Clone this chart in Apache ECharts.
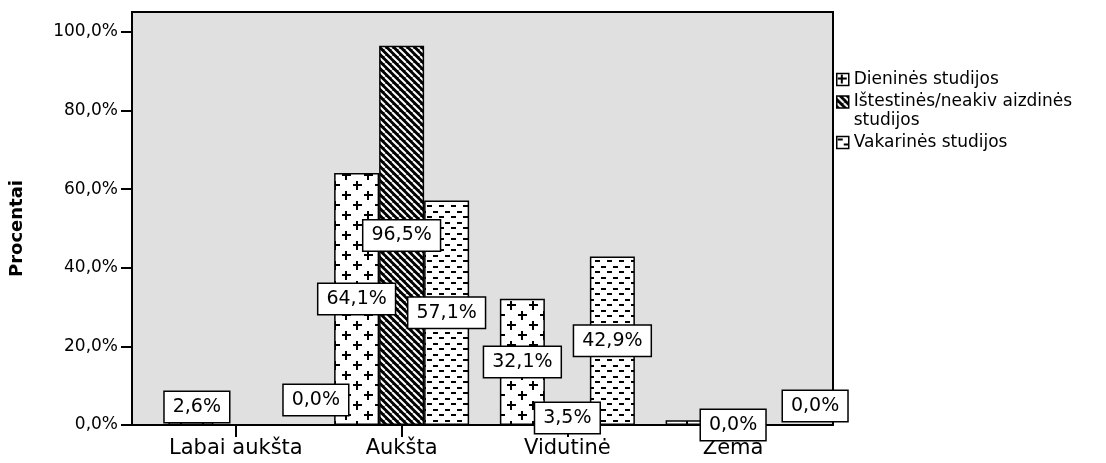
<!DOCTYPE html>
<html><head><meta charset="utf-8">
<style>html,body{margin:0;padding:0;background:#fff}#c{width:1106px;height:463px}</style>
<script src="https://cdn.jsdelivr.net/npm/echarts@6/dist/echarts.min.js"></script>
</head><body><div id="c"></div>
<script>
const categories = ['Labai aukšta', 'Aukšta', 'Vidutinė', 'Zema'];
const seriesNames = ['Dieninės studijos', 'Ištestinės/neakiv aizdinės\nstudijos', 'Vakarinės studijos'];
const dieninesValues = [2.6, 64.1, 32.1, 1.2];
const istestinesValues = [0.0, 96.5, 3.5, 0.0];
const vakarinesValues = [0.0, 57.1, 42.9, 0.0];
const yTicks = [0, 20, 40, 60, 80, 100];
const yMax = 105.1;

function tile(w, h, draw) {
  const c = document.createElement('canvas');
  c.width = w; c.height = h;
  draw(c.getContext('2d'), w, h);
  return c;
}
const plusTile = tile(22, 20, (g, w, h) => {
  g.fillStyle = '#fff'; g.fillRect(0, 0, w, h);
  g.fillStyle = '#000';
  [[5, 5], [16, 15]].forEach(([x, y]) => {
    g.fillRect(x - 4, y - 1, 9, 2);
    g.fillRect(x - 1, y - 4, 2, 9);
  });
});
const hatchTile = tile(7, 7, (g, w, h) => {
  g.fillStyle = '#000'; g.fillRect(0, 0, w, h);
  g.strokeStyle = '#fff'; g.lineWidth = 2;
  for (let k = -1; k <= 1; k++) {
    g.beginPath(); g.moveTo(k * w, 0); g.lineTo(k * w + w, h); g.stroke();
  }
});
const dashTile = tile(12, 11, (g, w, h) => {
  g.fillStyle = '#fff'; g.fillRect(0, 0, w, h);
  g.fillStyle = '#000';
  g.fillRect(1, 2, 5, 2);
  g.fillRect(7, 7, 5, 2);
});

const valueSets = [dieninesValues, istestinesValues, vakarinesValues];
const patterns = [plusTile, hatchTile, dashTile];
const hiddenLabels = { '0-3': true, '1-0': true };
const labelShift = { '0-0': [6, -13], '2-0': [35, -25], '2-3': [37, -19] };
const fmt = v => Number(v).toFixed(1).replace('.', ',') + '%';
const FONT = 'DejaVu Sans';

const series = valueSets.map((vals, s) => ({
  type: 'bar',
  name: seriesNames[s],
  xAxisIndex: 1, yAxisIndex: 1,
  barWidth: 45, barGap: '0%',
  itemStyle: { color: { image: patterns[s], repeat: 'repeat' }, borderColor: '#000', borderWidth: 1.5 },
  label: {
    show: true, position: 'inside', formatter: p => fmt(p.value),
    fontFamily: FONT, fontSize: 19, color: '#000',
    backgroundColor: '#fff', borderColor: '#000', borderWidth: 1.5, padding: [6, 8, 5, 8]
  },
  emphasis: { disabled: true },
  data: vals.map((v, i) => {
    const key = s + '-' + i;
    const item = { value: v };
    if (hiddenLabels[key]) item.label = { show: false };
    else if (labelShift[key]) item.label = { offset: labelShift[key] };
    return item;
  })
}));

const legendCommon = {
  orient: 'vertical', left: 836, itemWidth: 12, itemHeight: 12, icon: 'rect',
  padding: 0, itemGap: 0, selectedMode: false,
  textStyle: { fontFamily: FONT, fontSize: 17, color: '#000', lineHeight: 19 },
  itemStyle: { borderColor: '#000', borderWidth: 1.5 }
};

const chart = echarts.init(document.getElementById('c'), null, { renderer: 'canvas' });
chart.setOption({
  animation: false,
  backgroundColor: '#fff',
  textStyle: { fontFamily: FONT },
  grid: [
    { left: 132, right: 273, top: 12, bottom: 38, show: true, backgroundColor: '#e0e0e0',
      borderColor: '#000', borderWidth: 2, outerBoundsMode: 'none', containLabel: false },
    { left: 153, right: 290, top: 12, bottom: 38, outerBoundsMode: 'none', containLabel: false }
  ],
  legend: [
    Object.assign({}, legendCommon, { data: [seriesNames[0]], top: 70 }),
    Object.assign({}, legendCommon, { data: [seriesNames[1]], top: 73.5,
      formatter: name => '\n' + name }),
    Object.assign({}, legendCommon, { data: [seriesNames[2]], top: 133 })
  ],
  xAxis: [
    { gridIndex: 0, type: 'value', show: false, min: 0, max: 1 },
    { gridIndex: 1, type: 'category', data: categories,
      axisLine: { show: false },
      axisTick: { show: true, alignWithLabel: true, length: 12, lineStyle: { color: '#000', width: 2 } },
      axisLabel: { fontFamily: FONT, fontSize: 21, color: '#000', margin: 13, interval: 0 } }
  ],
  yAxis: [
    { gridIndex: 0, type: 'value', min: 0, max: yMax, interval: 20,
      name: 'Procentai', nameLocation: 'middle', nameRotate: 90, nameGap: 106,
      nameTextStyle: { fontFamily: FONT, fontSize: 18, fontWeight: 'bold', color: '#000', padding: [0, 20, 0, 0] },
      axisLine: { show: true, lineStyle: { color: '#000', width: 2 } },
      axisTick: { show: true, length: 11, lineStyle: { color: '#000', width: 2 }, customValues: yTicks },
      axisLabel: { customValues: yTicks, formatter: fmt, fontFamily: FONT, fontSize: 17, color: '#000', margin: 14 },
      splitLine: { show: false } },
    { gridIndex: 1, type: 'value', min: 0, max: yMax, show: false }
  ],
  series: series
});
</script></body></html>
